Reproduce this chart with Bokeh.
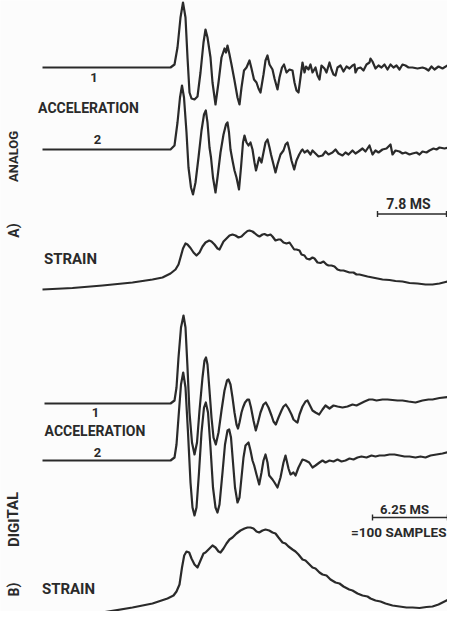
from bokeh.plotting import figure
from bokeh.models import Range1d
from bokeh.embed import file_html
from bokeh.resources import INLINE
from bokeh.core.properties import value

# ---------------- data: (time position, deflection from baseline, up = +) ----------------
analog_accel_1 = [(50,0),(178,0),(182,3),(185,20),(188,50),(190.5,65),(193,50),(195,10),(197,-25),(199,-31),(202,-32),(205,-29),(208,-5),(211,25),(213,38),(215,30),(218,10),(220,-15),(223,-37),(226,-15),(229,10),(232,19),(233.5,15),(235,22),(237,13),(239,3),(242,-13),(245,-30),(247,-37),(249,-20),(251.5,-3),(254,0),(257,7),(259,-1),(261.5,-12),(264,-15),(266,-21),(268,-25),(271,-7),(273,7),(275,12),(277,3),(280,-2),(282,-11),(285,-22),(287,-10),(289.5,0),(291.5,3),(294,-5),(297,-2),(300,-3),(302,-15),(304,-23),(306,-25),(308,-10),(310,5),(312,-5),(313.5,1),(316,-2),(318,3),(320,-5),(323,0),(325,-8),(327,-12),(329,2),(332,-1),(334,-5),(337,5),(339,-2),(341,-7),(343,-8),(345,0),(348,2),(351,-4),(354,1),(357,-1),(360,2),(362,3),(363,-5),(365,-1),(368,0),(371,-3),(374,3),(377,5),(378,9),(380,6),(383,-1),(386,2),(389,0),(392,3),(395,-2),(398,3),(401,0),(404,2),(407,-2),(410,3),(413,2),(416,0),(420,0),(425,-1),(430,0),(433,-1),(436,-3),(439,1),(442,-2),(446,1),(450,-1),(455,2),(460,1),(463,2)]

analog_accel_2 = [(50,0),(178,0),(182,4),(185,27),(187.5,52),(189.5,64),(191.5,52),(194,17),(196,-18),(198.5,-38),(200.5,-45),(203,-33),(206,-8),(209,19),(211.5,35),(213.3,39),(215,27),(217,2),(218.5,-8),(220.5,-28),(223,-43),(225,-28),(228,-3),(231,15),(233.5,25),(235,27),(236.5,17),(238,0),(240,-11),(242,-21),(244,-28),(246.5,-40),(248.5,-18),(250.5,7),(252,14),(254,7),(256,4),(258,7),(260,0),(262,-13),(263.5,-21),(265,-15),(266.7,-8),(269,-13),(271,-3),(273,7),(275,10),(277,2),(278.5,-5),(281,-15),(283,-23),(285,-15),(288,-5),(291,-1),(293,5),(295,7),(297,-1),(299,-11),(301.7,-20),(304,-11),(306.7,-5),(309,-1),(310,0),(312,-3),(315,-1),(318,-5),(320,-1),(323,-4),(326,-7),(330,-6),(333,-2),(336,-5),(340,-3),(343,0),(346,-4),(350,-6),(353,-3),(356,-5),(360,-1),(363,-4),(366,-2),(370,1),(373,-2),(377,4),(380,-5),(383,-1),(386,-3),(390,0),(394,1),(398,5),(400,-5),(403,-1),(407,-2),(410,-4),(413,-3),(417,-5),(420,-4),(424,-3),(427,-5),(430,-2),(434,-3),(437,-1),(441,1),(444,0),(447,2),(452,1),(456,2),(463,2)]

analog_strain = [(50,0),(80,1.5),(110,4),(140,7),(160,10),(170,12),(178,16),(183,20),(186,25),(188,32),(190.5,41),(193,46),(195,45),(198,41.5),(201,37),(204,34),(207,37),(210,43),(213,47),(216.7,49),(219,48),(222,45),(225,41),(227,40),(229,44),(231,48),(234,51),(237,54),(240,55),(243,54),(246,52),(249,53),(252,56),(255,58.5),(257,59),(260,58),(262,56.5),(265,54),(267,53),(270,55),(272,55.5),(275,54),(278,55),(280,53),(283,49),(286,50),(288,50),(291,47),(294,46),(297,47),(299,44),(301.7,40),(304,40),(307,39),(309,35),(312,34),(314,31),(317,30),(320,32),(322,31),(325,27),(328,26.5),(331,28),(334,25),(336,24),(339,24),(342,23),(345,20),(348,19),(351,19),(354,18),(357,17),(361,17),(364,15),(367,15),(371,14),(375,13),(380,12),(385,11),(390,10),(397,9.5),(403,8.5),(410,8),(417,6.5),(425,6),(433,5),(440,5),(447,6),(453,7.5),(463,9.5)]

digital_accel_1 = [(52,0),(178,0),(182,3),(184,16),(186,46),(188.5,76),(191,88),(193,76),(195,36),(197,-9),(199.5,-39),(202,-51),(204.5,-39),(207,-7),(210,26),(212,43),(213.5,46),(215,39),(217,13),(219,-14),(221,-34),(223.3,-41),(226,-29),(229,-7),(232,13),(234.5,23),(236,24),(238,19),(240,6),(242,-9),(244,-21),(245.5,-25),(247,-19),(249,-9),(250.5,-4),(252.5,1),(255,4),(256.5,4),(258.5,-4),(261,-17),(263.3,-27),(265.5,-19),(268,-9),(271,-1),(273.3,1),(276,-4),(279,-12),(281,-18),(283.3,-21),(286,-14),(289,-7),(291,-3),(293.3,-1),(296,-5),(299,-11),(301,-16),(303.3,-18),(305,-19),(307,-11),(310,-3),(313,2),(315,3),(318,-3),(320,-7),(323,-9),(326.7,-11),(330,-6),(333,-2),(337,-5),(341,-2),(345,-3),(350,-4),(355,-3),(360,-1),(364,-2),(368,0),(372,2),(376.7,4),(380,4),(384,3),(390,4),(395,4),(400,3.5),(405,3),(410,3),(416,2),(423,1),(430,3),(436,4),(440,4),(447,5.5),(455,6.5),(463,7.5)]

digital_accel_2 = [(50,0),(178,0),(182,3),(184,16),(186,43),(188.5,76),(190.7,88),(193,73),(195.5,28),(198,-22),(200,-47),(202,-55),(204,-47),(206.5,-12),(209,28),(211.5,53),(213.3,58),(215.5,48),(218,13),(220.5,-27),(223,-47),(225,-52),(227,-44),(230,-12),(232.5,16),(235,30),(236.7,31),(238.5,23),(240.5,-2),(242.5,-27),(245,-42),(247,-37),(249,-17),(251,3),(253,15),(256,18),(258,10),(260,0),(261.7,-5),(264,-14),(266.7,-24),(269,-12),(271,0),(273,6),(275,-2),(276.7,-15),(280,-19),(282,-22),(285,-27),(288,-17),(291,-2),(293,5),(296,-8),(298,-14),(301,-12),(303,-15),(306,-7),(310,1),(313,0),(316.7,-2),(320,-7),(323,-5),(327,-2),(330,0),(333,-2),(337,0),(341,-1),(345,1),(349,-1),(353,0),(357,2),(361,1),(365,3),(369,4),(374,3),(379,5),(383,4),(387,5),(392,5),(397,6),(402,6),(407,5),(412,4),(417,4),(423,3),(428,4),(433,3),(438,5),(444,6),(450,7),(456,8.5),(463,10)]

digital_strain = [(48,0),(80,2),(110,6),(140,11),(160,15),(175,20),(181,23),(184,27),(187,34),(189.5,51),(191.7,63),(194,67),(196.7,66),(199,60),(202,54),(205,51),(208,58),(211,65),(213,66),(216,69),(220,73),(223,71),(226,67),(228,66),(231,70),(234,75),(237,79),(240,81),(244,85),(248,88),(252,90),(255,91),(258,91),(261,90),(264,87),(266.7,86),(270,88),(273,89),(276.7,88),(280,86),(283,85),(286,81),(290,76),(293,75),(296,72),(300,69),(303,67),(306,64),(310,59),(313,58),(317,54),(320,51),(323,50),(327,46),(330,44),(334,43),(338,39),(343,36),(347,35),(351,32),(356.7,29),(360,28),(365,25),(370,23),(375,22),(378,20),(383,18),(388,17),(393,15),(400,13),(407,12),(414,11),(420,11),(427,10.5),(434,11.5),(440,12),(446,14),(450,16),(455,18.5),(463,22)]

# time scale bars: (start, end) along the time direction
analog_scale_bar = [385, 454]      # 7.8 MS
digital_scale_bar = [380, 455]     # 6.25 MS = 100 samples

# ---------------- layout (vertical placement of each trace) ----------------
traces = [
    (analog_accel_1, 552),
    (analog_accel_2, 470),
    (analog_strain, 330),
    (digital_accel_1, 216),
    (digital_accel_2, 159),
    (digital_strain, 1),
]

INK = "#2a2a2a"
FONT = "Roboto"

p = figure(width=447, height=611, output_backend="svg", toolbar_location=None,
           x_range=Range1d(8, 455), y_range=Range1d(8, 619), min_border=0)
p.axis.visible = False
p.grid.visible = False
p.outline_line_color = None
p.background_fill_color = "#fcfcfc"
p.border_fill_color = "#fcfcfc"

for data, base in traces:
    t = [d[0] for d in data]
    y = [base + d[1] for d in data]
    p.line(t, y, line_color=INK, line_width=2.2, line_join="round")

# scale bars
for bar, level in ((analog_scale_bar, 405.5), (digital_scale_bar, 102)):
    p.line(bar, [level, level], line_color=INK, line_width=1.6)
    p.segment(x0=bar, y0=[level + 3, level + 3], x1=bar, y1=[level - 3, level - 3],
              line_color=INK, line_width=1.4)

labels = [
    ("1", 101.5, 542, 0, 13, "center"),
    ("ACCELERATION", 96, 512, 0, 14, "center"),
    ("2", 105, 480, 0, 13, "center"),
    ("ANALOG", 21, 463, 1.5708, 13, "center"),
    ("A)", 21, 389, 1.5708, 14, "center"),
    ("7.8 MS", 416, 415.5, 0, 14, "center"),
    ("STRAIN", 78, 360.5, 0, 15, "center"),
    ("1", 103, 207, 0, 13, "center"),
    ("ACCELERATION", 102.5, 189, 0, 14, "center"),
    ("2", 105, 167, 0, 13, "center"),
    ("DIGITAL", 21, 100, 1.5708, 15, "center"),
    ("B)", 21, 30, 1.5708, 14, "center"),
    ("STRAIN", 76, 30.5, 0, 15, "center"),
    ("6.25 MS", 412, 110, 0, 13, "center"),
    ("=100 SAMPLES", 454, 88, 0, 13.5, "right"),
]
for txt, x, y, ang, size, align in labels:
    p.text(x=[x], y=[y], text=[txt], angle=ang, text_align=align, text_baseline="middle",
           text_font=value(FONT), text_font_style="bold", text_font_size=f"{size}px",
           text_color=INK)

open("out.html", "w").write(file_html(p, INLINE))
